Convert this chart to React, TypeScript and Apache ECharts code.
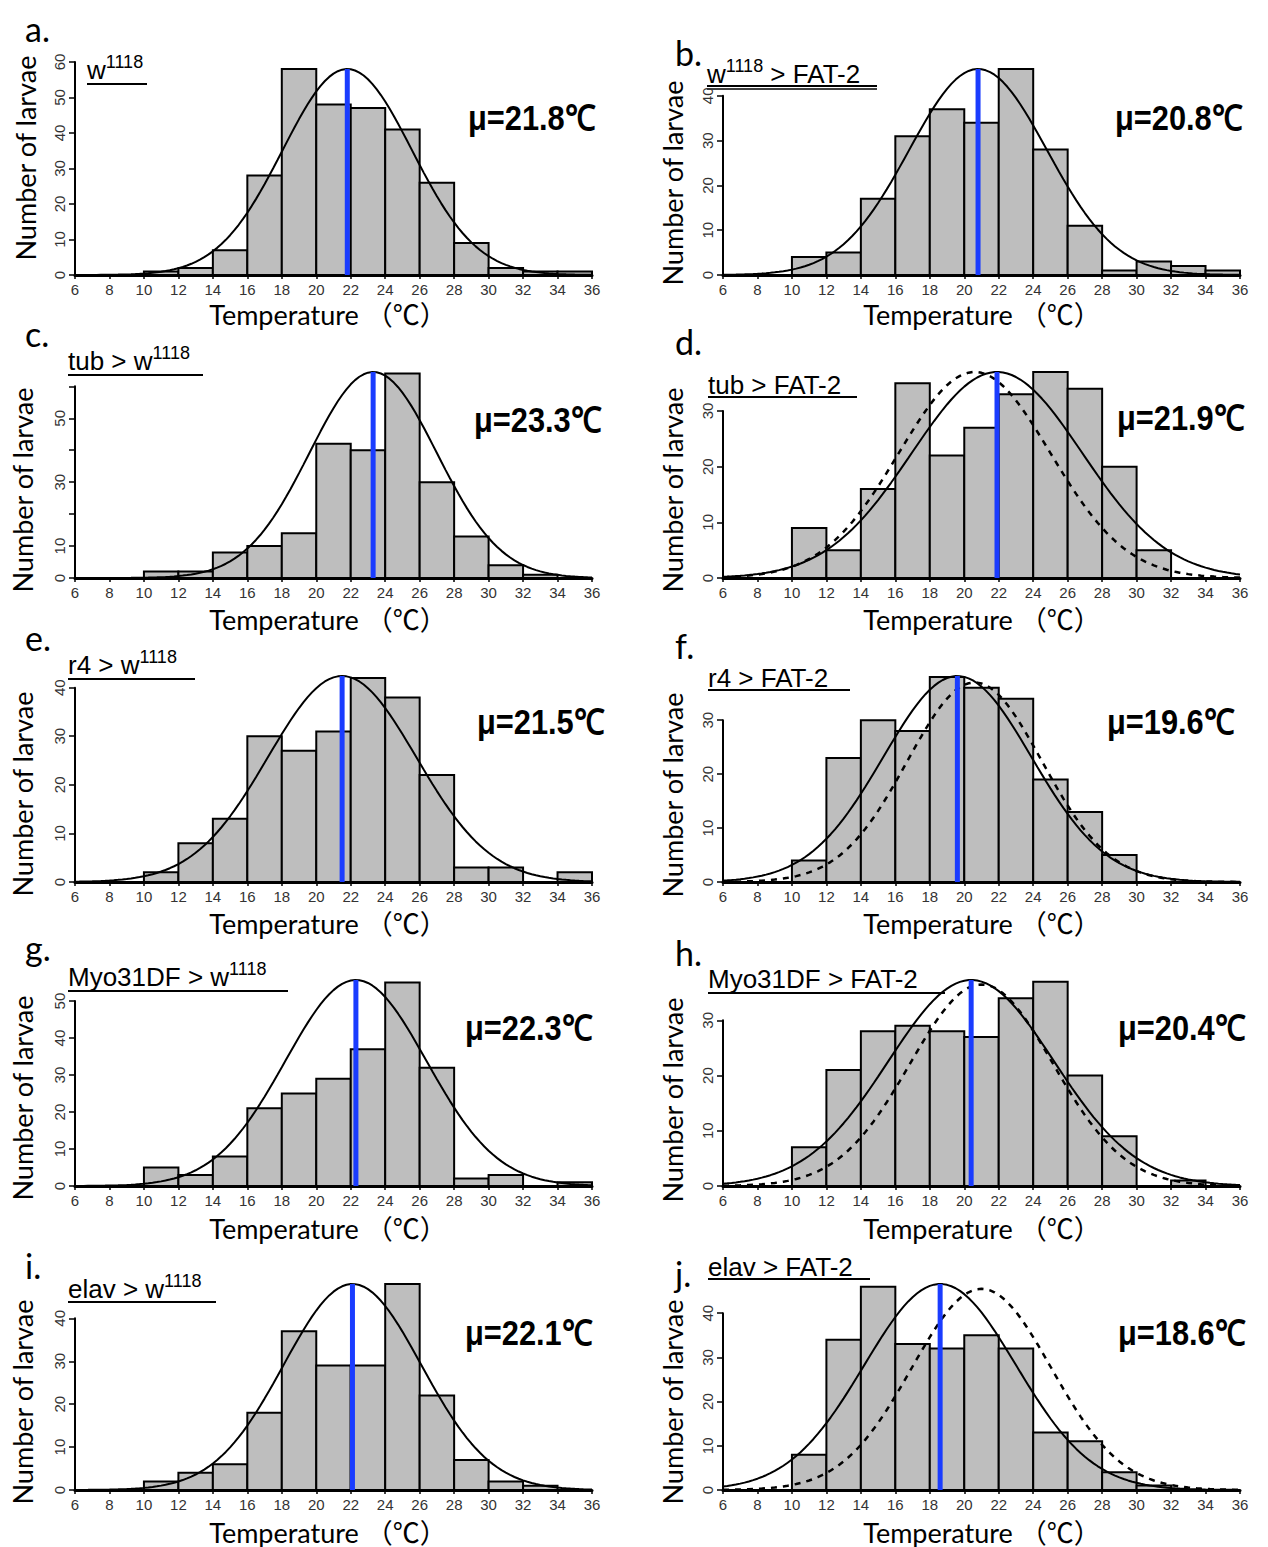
import React, { useEffect, useRef } from 'react';
import * as echarts from 'echarts';

// ---------- data ----------
const binStarts = [6, 8, 10, 12, 14, 16, 18, 20, 22, 24, 26, 28, 30, 32, 34];
const binWidth = 2;

const countsA = [0, 0, 1, 2, 7, 28, 58, 48, 47, 41, 26, 9, 2, 1, 1];
const countsB = [0, 0, 4, 5, 17, 31, 37, 34, 46, 28, 11, 1, 3, 2, 1];
const countsC = [0, 0, 2, 2, 8, 10, 14, 42, 40, 64, 30, 13, 4, 1, 0];
const countsD = [0, 0, 9, 5, 16, 35, 22, 27, 33, 37, 34, 20, 5, 0, 0];
const countsE = [0, 0, 2, 8, 13, 30, 27, 31, 42, 38, 22, 3, 3, 0, 2];
const countsF = [0, 0, 4, 23, 30, 28, 38, 36, 34, 19, 13, 5, 0, 0, 0];
const countsG = [0, 0, 5, 3, 8, 21, 25, 29, 37, 55, 32, 2, 3, 0, 1];
const countsH = [0, 0, 7, 21, 28, 29, 28, 27, 34, 37, 20, 9, 0, 1, 0];
const countsI = [0, 0, 2, 4, 6, 18, 37, 29, 29, 48, 22, 7, 2, 1, 0];
const countsJ = [0, 0, 8, 34, 46, 33, 32, 35, 32, 13, 11, 4, 1, 0, 0];

// fitted normal curves (mean, sd, peak height)
const solidMean = [21.8, 20.8, 23.3, 21.9, 21.5, 19.6, 22.3, 20.4, 22.1, 18.6];
const solidSd = [3.75, 4.0, 3.7, 4.95, 4.3, 4.3, 4.1, 4.8, 4.0, 4.4];
const solidPeak = [58, 46, 64.5, 37, 42.4, 38.2, 55.7, 37.3, 48, 46.6];
const dashedMean = [null, null, null, 20.6, null, 20.6, null, 21.0, null, 21.0];
const dashedSd = [null, null, null, 4.4, null, 3.9, null, 4.15, null, 4.05];
const dashedPeak = [null, null, null, 37, null, 37, null, 36.5, null, 45.5];

const yTopTick = [60, 40, 60, 30, 40, 30, 50, 30, 40, 40];
const yHiddenLabels = [[], [], [20, 40, 60], [], [], [], [], [], [], []];

const panelLetters = ['a.', 'b.', 'c.', 'd.', 'e.', 'f.', 'g.', 'h.', 'i.', 'j.'];
const genotypes = [
  '{n|w}{s|1118}',
  '{n|w}{s|1118}{n| > FAT-2}',
  '{n|tub > w}{s|1118}',
  '{n|tub > FAT-2}',
  '{n|r4 > w}{s|1118}',
  '{n|r4 > FAT-2}',
  '{n|Myo31DF > w}{s|1118}',
  '{n|Myo31DF > FAT-2}',
  '{n|elav > w}{s|1118}',
  '{n|elav > FAT-2}',
];
const meanLabels = ['μ=21.8℃', 'μ=20.8℃', 'μ=23.3℃', 'μ=21.9℃', 'μ=21.5℃', 'μ=19.6℃', 'μ=22.3℃', 'μ=20.4℃', 'μ=22.1℃', 'μ=18.6℃'];
const yName = 'Number of larvae';
const xName = 'Temperature （℃）';

const allCounts = [countsA, countsB, countsC, countsD, countsE, countsF, countsG, countsH, countsI, countsJ];

// ---------- layout ----------
const rowZeroY = [275, 578, 882, 1186, 1490];
const colLeft = [75, 723];
const plotWidth = 517;
const dataTopPx = 206;

const letterPos = [[25, 28], [675, 52], [25, 333], [675, 341], [25, 637], [675, 645], [25, 947], [675, 952], [25, 1265], [675, 1273]];
const genoPos = [[87, 68], [707, 72], [68, 359], [708, 383], [68, 663], [708, 676], [68, 975], [708, 977], [68, 1287], [708, 1265]];
const underline = [[87, 147, 84], [707, 877, 86], [68, 203, 375], [708, 857, 397], [68, 195, 679], [708, 850, 690], [68, 288, 991], [708, 945, 993], [68, 216, 1302], [708, 870, 1279]];
const meanPos = [[468, 118], [1115, 118], [474, 420], [1117, 418], [477, 722], [1107, 722], [465, 1028], [1118, 1028], [465, 1333], [1118, 1333]];
const yNamePos = [[25, 158], [672, 183], [22, 490], [672, 490], [22, 794], [672, 795], [22, 1098], [672, 1100], [22, 1402], [672, 1402]];
const xNameY = [314, 619, 923, 1228, 1532];
const xNameX = [328, 982];

const tickFont = "'Liberation Sans', Arial, sans-serif";
const labelFont = "Lato, 'Noto Sans CJK SC', sans-serif";

function curvePoints(mean: number, sd: number, peak: number) {
  const pts: number[][] = [];
  for (let x = 6; x <= 36.0001; x += 0.25) {
    pts.push([x, peak * Math.exp(-((x - mean) ** 2) / (2 * sd * sd))]);
  }
  return pts;
}

function buildOption() {
  const grids: any[] = [];
  const xAxes: any[] = [];
  const yAxes: any[] = [];
  const series: any[] = [];
  const graphics: any[] = [];

  for (let i = 0; i < 10; i++) {
    const col = i % 2;
    const row = Math.floor(i / 2);
    const counts = allCounts[i];
    const yMax = Math.max(...counts, solidPeak[i], dashedPeak[i] || 0);
    const ppu = dataTopPx / yMax;
    const h = yTopTick[i] * ppu;
    const y0 = rowZeroY[row];
    grids.push({ left: colLeft[col], top: y0 - h, width: plotWidth, height: h, containLabel: false });
    xAxes.push({
      type: 'value', gridIndex: i, min: 6, max: 36, interval: 2,
      axisLine: { show: true, lineStyle: { color: '#000', width: 3 } },
      axisTick: { show: true, length: 4, lineStyle: { color: '#000', width: 1.5 } },
      axisLabel: { show: true, margin: 7, fontSize: 15, color: '#333', fontFamily: tickFont },
      splitLine: { show: false },
    });
    const hidden = yHiddenLabels[i];
    yAxes.push({
      type: 'value', gridIndex: i, min: 0, max: yTopTick[i], interval: 10,
      axisLine: { show: true, lineStyle: { color: '#000', width: 2 } },
      axisTick: { show: true, length: 6, lineStyle: { color: '#000', width: 1.5 } },
      axisLabel: {
        show: true, rotate: 90, margin: 8, fontSize: 15, color: '#333', fontFamily: tickFont,
        formatter: (v: number) => (hidden.indexOf(v) >= 0 ? '' : String(v)),
      },
      splitLine: { show: false },
    });
    series.push({
      type: 'custom', xAxisIndex: i, yAxisIndex: i, clip: false,
      data: binStarts.map((b, k) => [b, b + binWidth, counts[k]]),
      encode: { x: [0, 1], y: 2 },
      renderItem: (params: any, api: any) => {
        const p0 = api.coord([api.value(0), 0]);
        const p1 = api.coord([api.value(1), api.value(2)]);
        return {
          type: 'rect',
          shape: { x: p0[0], y: p1[1], width: p1[0] - p0[0], height: p0[1] - p1[1] },
          style: { fill: '#bebebe', stroke: '#000', lineWidth: 2 },
        };
      },
      z: 2,
    });
    series.push({
      type: 'line', xAxisIndex: i, yAxisIndex: i, clip: false, showSymbol: false, symbol: 'none',
      data: curvePoints(solidMean[i], solidSd[i], solidPeak[i]),
      lineStyle: { color: '#000', width: 2 }, z: 3, silent: true,
    });
    if (dashedMean[i] != null) {
      series.push({
        type: 'line', xAxisIndex: i, yAxisIndex: i, clip: false, showSymbol: false, symbol: 'none',
        data: curvePoints(dashedMean[i] as number, dashedSd[i] as number, dashedPeak[i] as number),
        lineStyle: { color: '#000', width: 2.5, type: [6, 6] }, z: 3, silent: true,
      });
    }
    series.push({
      type: 'line', xAxisIndex: i, yAxisIndex: i, clip: false, showSymbol: false, symbol: 'none',
      data: [[solidMean[i], 0], [solidMean[i], solidPeak[i]]],
      lineStyle: { color: '#1a3cff', width: 5 }, z: 4, silent: true,
    });

    // texts
    graphics.push({
      type: 'text', x: letterPos[i][0], y: letterPos[i][1],
      style: { text: panelLetters[i], fontSize: 34, fontFamily: labelFont, fill: '#000', align: 'left', verticalAlign: 'middle' },
    });
    graphics.push({
      type: 'text', x: genoPos[i][0], y: genoPos[i][1],
      style: {
        text: genotypes[i], align: 'left', verticalAlign: 'middle', fill: '#000',
        rich: {
          n: { fontSize: 26, fontFamily: tickFont, fill: '#000', lineHeight: 30, verticalAlign: 'bottom' },
          s: { fontSize: 18, fontFamily: tickFont, fill: '#000', lineHeight: 19, verticalAlign: 'top' },
        },
      },
    });
    const u = underline[i];
    graphics.push({ type: 'line', shape: { x1: u[0], y1: u[2], x2: u[1], y2: u[2] }, style: { stroke: '#000', lineWidth: 2 } });
    if (i === 1) {
      graphics.push({ type: 'line', shape: { x1: u[0], y1: u[2] + 3, x2: u[1], y2: u[2] + 3 }, style: { stroke: '#000', lineWidth: 1.5 } });
    }
    graphics.push({
      type: 'text', x: meanPos[i][0], y: meanPos[i][1], scaleX: 0.88,
      style: {
        text: meanLabels[i], fontSize: 35, fontWeight: 'bold',
        fontFamily: "'Liberation Sans', Arial, sans-serif",
        fill: '#000', align: 'left', verticalAlign: 'middle',
      },
    });
    graphics.push({
      type: 'text', x: yNamePos[i][0], y: yNamePos[i][1], rotation: Math.PI / 2,
      style: { text: yName, fontSize: 27, fontFamily: labelFont, fill: '#000', align: 'center', verticalAlign: 'middle' },
    });
    graphics.push({
      type: 'text', x: xNameX[col], y: xNameY[row],
      style: { text: xName, fontSize: 27, fontFamily: labelFont, fill: '#000', align: 'center', verticalAlign: 'middle' },
    });
  }

  return {
    animation: false,
    backgroundColor: '#fff',
    grid: grids,
    xAxis: xAxes,
    yAxis: yAxes,
    series,
    graphic: graphics,
  };
}

export default function App() {
  const ref = useRef<HTMLDivElement>(null);
  useEffect(() => {
    if (!ref.current) return;
    const chart = echarts.init(ref.current, null, { renderer: 'svg' });
    chart.setOption(buildOption() as any);
    return () => chart.dispose();
  }, []);
  return (
    <div
      ref={ref}
      style={{ position: 'absolute', left: 0, top: 0, width: 1268, height: 1547, background: '#fff' }}
    />
  );
}
